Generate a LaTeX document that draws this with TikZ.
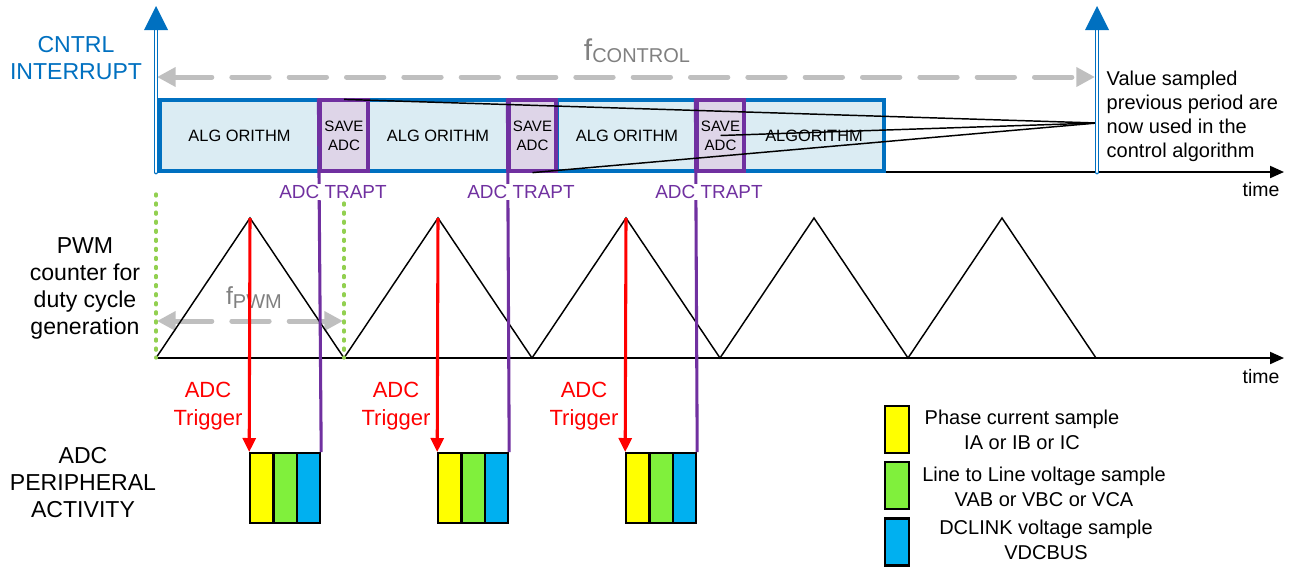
\documentclass[tikz,border=0pt]{standalone}
\usepackage{fontspec}
\setmainfont{Liberation Sans}
\usetikzlibrary{arrows.meta,calc}
\definecolor{cblue}{RGB}{0,112,192}
\definecolor{boxfill}{RGB}{219,236,243}
\definecolor{cpurple}{RGB}{112,48,160}
\definecolor{purplefill}{RGB}{222,213,232}
\definecolor{greyarrow}{RGB}{191,191,191}
\definecolor{greytext}{RGB}{128,128,128}
\definecolor{dotgreen}{RGB}{146,208,80}
\definecolor{cred}{RGB}{255,0,0}
\definecolor{cyellow}{RGB}{255,255,0}
\definecolor{cgreen}{RGB}{128,240,60}
\definecolor{ccyan}{RGB}{0,176,240}
\newcommand\myfs[2]{\fontsize{#1}{#2}\selectfont}
\begin{document}
\begin{tikzpicture}[x=0.75pt,y=-0.75pt,
  algbox/.style={draw=cblue, line width=2.4pt, fill=boxfill, minimum height=71*0.75pt, inner sep=0pt, font=\myfs{12.3}{14}},
  savebox/.style={draw=cpurple, line width=2.4pt, fill=purplefill, minimum width=47*0.75pt, minimum height=71*0.75pt, inner sep=0pt, align=center, font=\myfs{11.3}{14.3}},
  intshaft/.style={draw=cblue, line width=1pt, double=white, double distance=1.6pt, line cap=round},
  axisline/.style={draw=black, line width=1.5pt, -{Triangle[length=10.5pt,width=9pt]}},
  greyarr/.style={draw=greyarrow, line width=3.75pt, line cap=round, dash pattern=on 28pt off 15pt,
     {Triangle[length=14pt,width=14pt]}-{Triangle[length=14pt,width=14pt]}},
  trapt/.style={text=cpurple, fill=white, inner sep=1.2pt, font=\myfs{14.2}{16}},
  purpleline/.style={draw=cpurple, line width=2.3pt},
  redarrow/.style={draw=cred, line width=2.3pt, -{Triangle[length=10.5pt,width=9.75pt]}},
  trig/.style={text=cred, align=center, font=\myfs{16.5}{21}},
  sidelabel/.style={align=center, font=\myfs{17.3}{20.25}},
  sample/.style={draw=black, line width=1.5pt, minimum width=23*0.75pt, minimum height=70*0.75pt, inner sep=0pt},
  legbox/.style={draw=black, line width=1.8pt, minimum width=24*0.75pt, minimum height=47*0.75pt, inner sep=0pt},
  legtext/.style={align=center, font=\myfs{15}{18.75}},
  greendot/.style={draw=dotgreen, line width=2.5pt, line cap=round, dash pattern=on 1.5pt off 5.3pt},
  thinline/.style={draw=black, line width=1.1pt}
]
\useasboundingbox (0,0) rectangle (1291,568);

% ---------- labels on the left
\node[sidelabel, text=cblue] (cntrl) at (76,58) {CNTRL\\INTERRUPT};
\node[sidelabel] (pwm) at (85,288) {PWM\\counter for\\duty cycle\\generation};
\node[sidelabel] (adcp) at (83,483) {ADC\\PERIPHERAL\\ACTIVITY};

% ---------- f_CONTROL arrow
\coordinate (fcL) at (157,77);
\coordinate (fcR) at (1095,77);
\draw[greyarr] (fcL) -- (fcR);
\node[text=greytext, inner sep=0pt] (fctl) at (637,51) {{\myfs{22.5}{24}f}\raisebox{-1.5pt}{\myfs{15}{16}CONTROL}};

% ---------- time axes
\coordinate (ax1s) at (156,172);
\coordinate (ax1e) at (1284,172);
\draw[axisline] (ax1s) -- (ax1e);
\node[font=\myfs{14.6}{16}] (time1) at (1261,190) {time};
\coordinate (ax2s) at (156,358);
\coordinate (ax2e) at (1284,358);
\draw[axisline] (ax2s) -- (ax2e);
\node[font=\myfs{14.6}{16}] (time2) at (1261,377) {time};

% ---------- task boxes
\node[algbox, minimum width=159*0.75pt] (a1) at (239.5,135.5) {ALG ORITHM};
\node[algbox, minimum width=140*0.75pt] (a2) at (438,135.5) {ALG ORITHM};
\node[algbox, minimum width=140*0.75pt] (a3) at (627,135.5) {ALG ORITHM};
\node[algbox, minimum width=140*0.75pt] (a4) at (814,135.5) {ALGORITHM};
\node[savebox, minimum width=48*0.75pt] (s1) at (344,135.5) {SAVE\\ADC};
\node[savebox] (s2) at (532.5,135.5) {SAVE\\ADC};
\node[savebox] (s3) at (720.5,135.5) {SAVE\\ADC};

% ---------- f_PWM arrow
\coordinate (fpL) at (157,321);
\coordinate (fpR) at (343,321);
\draw[greyarr] (fpL) -- (fpR);
\node[text=greytext, inner sep=0pt] (fpwm) at (254,298) {{\myfs{18.5}{20}f}\raisebox{-3pt}{\myfs{15}{16}PWM}};

% ---------- PWM triangle
\coordinate (v0) at (156,358);
\coordinate (p1) at (250,218);
\coordinate (v1) at (344,358);
\coordinate (p2) at (438,218);
\coordinate (v2) at (532,358);
\coordinate (p3) at (626,218);
\coordinate (v3) at (720,358);
\coordinate (p4) at (814,218);
\coordinate (v4) at (908,358);
\coordinate (p5) at (1002,218);
\coordinate (v5) at (1096,358);
\draw[black, line width=1.1pt, line join=miter] (v0) -- (p1) -- (v1) -- (p2) -- (v2) -- (p3) -- (v3) -- (p4) -- (v4) -- (p5) -- (v5);

% ---------- green dotted period markers
\coordinate (g1t) at (156,194);
\coordinate (g1b) at (156,358);
\coordinate (g2t) at (344,194);
\coordinate (g2b) at (344,358);
\draw[greendot] (g1t) -- (g1b);
\draw[greendot] (g2t) -- (g2b);

% ---------- ADC sample blocks
\foreach \n/\x in {1/250, 2/438, 3/626}{
  \node[sample, fill=cyellow] (y\n) at (\x+11.7,488) {};
  \node[sample, fill=cgreen]  (g\n) at (\x+35.2,488) {};
  \node[sample, fill=ccyan]   (c\n) at (\x+58.7,488) {};
}

% ---------- red trigger arrows
\draw[redarrow] (p1) -- (y1.north west);
\draw[redarrow] (p2) -- (y2.north west);
\draw[redarrow] (p3) -- (y3.north west);
\node[trig] (t1) at (208,406) {ADC\\Trigger};
\node[trig] (t2) at (396,406) {ADC\\Trigger};
\node[trig] (t3) at (584,406) {ADC\\Trigger};

% ---------- purple ADC TRAPT lines
\draw[purpleline] (s1.north west) -- (c1.north east);
\draw[purpleline] (s2.north west) -- (c2.north east);
\draw[purpleline] (s3.north west) -- (c3.north east);
\node[trapt] (tr1) at (333,192) {ADC TRAPT};
\node[trapt] (tr2) at (521,192) {ADC TRAPT};
\node[trapt] (tr3) at (709,192) {ADC TRAPT};

% ---------- interrupt arrows
\coordinate (i1b) at (156,172);
\coordinate (i1t) at (156,29);
\draw[intshaft] (i1b) -- (i1t);
\fill[cblue] (156,6) -- (168,30) -- (144,30) -- cycle;
\coordinate (i2b) at (1097,172);
\coordinate (i2t) at (1097,29);
\coordinate (vs) at (1097,123);
\draw[thinline] (vs) -- ($(s1.north)+(0,1)$);
\draw[thinline] (vs) -- (s3.center);
\draw[thinline] (vs) -- (s2.south);
\draw[intshaft] (i2b) -- (i2t);
\fill[cblue] (1097,6) -- (1109,30) -- (1085,30) -- cycle;

% ---------- note
\node[anchor=west, align=left, font=\myfs{15}{18}] (note) at (1102,116) {Value sampled\\previous period are\\now used in the\\control algorithm};

% ---------- legend
\node[legbox, fill=cyellow] (l1) at (897,429.5) {};
\node[legbox, fill=cgreen]  (l2) at (897,485.5) {};
\node[legbox, fill=ccyan]   (l3) at (897,542) {};
\node[legtext] (lt1) at (1022,429.5) {Phase current sample\\IA or IB or IC};
\node[legtext] (lt2) at (1044,486.5) {Line to Line voltage sample\\VAB or VBC or VCA};
\node[legtext] (lt3) at (1046,540) {DCLINK voltage sample\\VDCBUS};
\end{tikzpicture}
\end{document}
